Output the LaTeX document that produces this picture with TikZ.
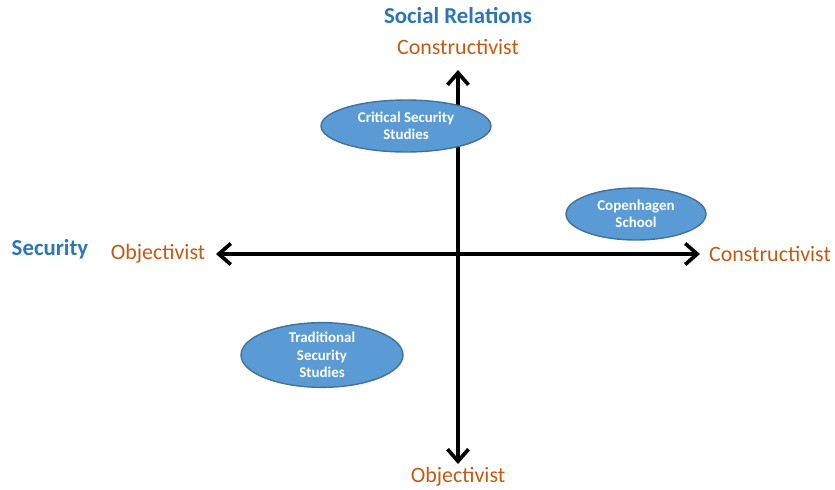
\documentclass[tikz,border=0pt]{standalone}
\usepackage{fontspec}
\setmainfont{Carlito}
\usetikzlibrary{arrows.meta,shapes.geometric}
\definecolor{axisblue}{HTML}{2E75B6}
\definecolor{axisorange}{HTML}{C55A11}
\definecolor{ellfill}{HTML}{5B9BD5}
\definecolor{elldraw}{HTML}{41719C}

\begin{document}
\begin{tikzpicture}[x=0.02cm,y=-0.02cm,>={Straight Barb[length=2.4mm,width=4.2mm,line width=2.1pt]}]
  \tikzstyle{ell}=[ellipse,fill=ellfill,draw=elldraw,line width=0.8pt,inner sep=0pt,
    text=white,font=\fontsize{8.5}{10}\selectfont\bfseries,align=center]
  \tikzstyle{title}=[text=axisblue,font=\fontsize{13}{15}\selectfont\bfseries]
  \tikzstyle{pole}=[text=axisorange,font=\fontsize{12.5}{14}\selectfont]

\useasboundingbox (0,0) rectangle (835,490);

\begin{scope}
\node [title] (social) at (458,16) {Social Relations};
\node [pole] (ctop) at (458,47) {Constructivist};
\node [pole] (obot) at (458,477) {Objectivist};
\node [title] (security) at (50,249) {Security};
\node [pole] (oleft) at (158,254) {Objectivist};
\node [pole] (cright) at (770,254) {Constructivist};

\coordinate (top) at (458,70);
\coordinate (bot) at (458,464);
\coordinate (left) at (216,254);
\coordinate (right) at (700,254);
\draw [<->,line width=1.8pt] (left) -- (right);
\draw [<->,line width=1.8pt] (top) -- (bot);

\node [ell,minimum width=3.4cm,minimum height=1.04cm] (css) at (406,126) {Critical Security\\Studies};
\node [ell,minimum width=2.8cm,minimum height=1.04cm] (cs) at (636,214) {Copenhagen\\School};
\node [ell,minimum width=3.24cm,minimum height=1.28cm] (tss) at (322,355) {Traditional\\Security\\Studies};
\end{scope}
\end{tikzpicture}
\end{document}
